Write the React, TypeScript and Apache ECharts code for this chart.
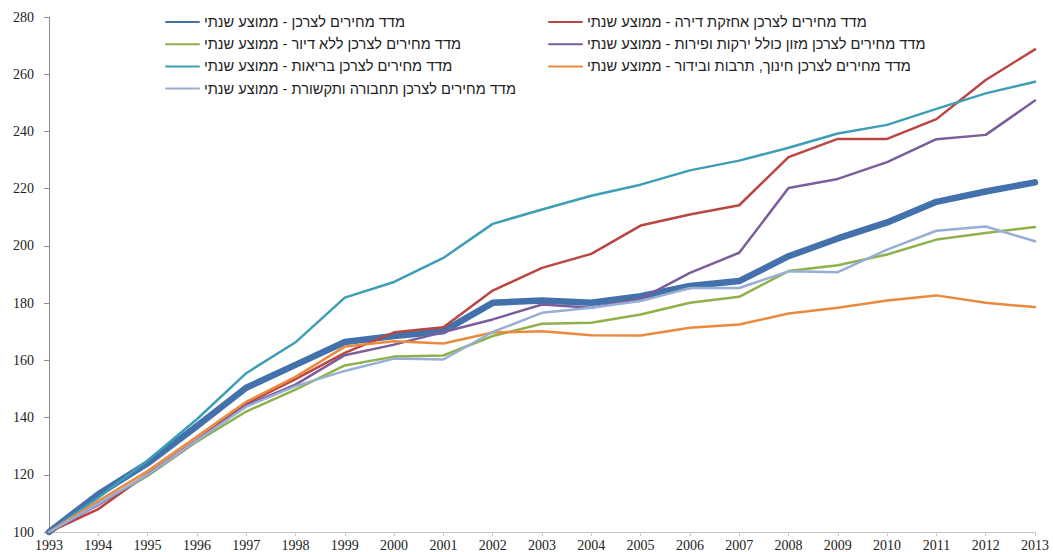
import React, { useEffect, useRef } from "react";
import * as echarts from "echarts";

const years = ["1993","1994","1995","1996","1997","1998","1999","2000","2001","2002","2003","2004","2005","2006","2007","2008","2009","2010","2011","2012","2013"];

const cpi = [100, 113.2, 124, 137, 150.4, 158.4, 166.4, 168.5, 170.2, 180.1, 180.9, 180.1, 182.4, 186, 187.7, 196.4, 202.6, 208.2, 215.4, 219, 222.2];
const housing = [100, 108, 120.3, 132.2, 144.8, 153.4, 162.6, 169.8, 171.6, 184.4, 192.3, 197.2, 207.1, 211, 214.2, 231, 237.4, 237.4, 244.3, 258, 268.7];
const exclHousing = [100, 109.8, 119.6, 131.6, 142.1, 149.8, 158.2, 161.3, 161.7, 168.5, 172.8, 173.1, 176, 180.1, 182.2, 191.2, 193.2, 197, 202.2, 204.5, 206.6];
const food = [100, 109.5, 120, 132, 144.3, 151.5, 161.8, 165.5, 169.9, 174.3, 179.5, 178.4, 181.5, 190.6, 197.6, 220.2, 223.4, 229.3, 237.3, 238.8, 250.8];
const health = [100, 112, 125, 139.4, 155.5, 166.3, 181.9, 187.4, 195.8, 207.7, 212.7, 217.5, 221.4, 226.4, 229.8, 234.3, 239.3, 242.3, 247.9, 253.3, 257.4];
const education = [100, 110.8, 121.3, 133.4, 145.5, 154.2, 164.8, 166.7, 165.9, 169.7, 170.2, 168.8, 168.7, 171.4, 172.5, 176.4, 178.4, 180.9, 182.7, 180.1, 178.6];
const communication = [100, 109.8, 120, 132, 143.8, 151, 156.3, 160.6, 160.3, 169.9, 176.6, 178.4, 180.7, 185.3, 185.3, 191.1, 190.8, 198.7, 205.3, 206.8, 201.6];

const names = [
  "מדד מחירים לצרכן - ממוצע שנתי",
  "מדד מחירים לצרכן אחזקת דירה - ממוצע שנתי",
  "מדד מחירים לצרכן ללא דיור - ממוצע שנתי",
  "מדד מחירים לצרכן מזון כולל ירקות ופירות - ממוצע שנתי",
  "מדד מחירים לצרכן בריאות - ממוצע שנתי",
  "מדד מחירים לצרכן חינוך, תרבות ובידור - ממוצע שנתי",
  "מדד מחירים לצרכן תחבורה ותקשורת - ממוצע שנתי",
];
const values = [cpi, housing, exclHousing, food, health, education, communication];
const colors = ["#4271AB", "#BB4541", "#8DB14B", "#7B5D9C", "#3E9EB5", "#EA8A3F", "#98AED6"];
const widths = [6.5, 2.5, 2.5, 2.5, 2.5, 2.5, 2.5];

export default function App() {
  const ref = useRef<HTMLDivElement>(null);
  useEffect(() => {
    if (!ref.current) return;
    const chart = echarts.init(ref.current, undefined, { renderer: "svg" });
    const legendText = { fontFamily: "Liberation Sans, DejaVu Sans, Arial, sans-serif", fontSize: 14.6, lineHeight: 16, color: "#222" };
    const legendBase = {
      top: 14, orient: "vertical", itemWidth: 33, itemHeight: 14, itemGap: 6.2,
      padding: 0,
      itemStyle: { opacity: 0 },
      textStyle: legendText,
    };
    chart.setOption({
      animation: false,
      backgroundColor: "#fff",
      legend: [
        { ...legendBase, left: 165, data: [names[0], names[2], names[4], names[6]] },
        { ...legendBase, left: 548, data: [names[1], names[3], names[5]] },
      ],
      grid: { left: 49, right: 18, top: 17, bottom: 19 },
      xAxis: {
        type: "category",
        data: years,
        boundaryGap: false,
        axisLine: { lineStyle: { color: "#C8C8C8", width: 1 } },
        axisTick: { show: true, length: 4, lineStyle: { color: "#C8C8C8" } },
        axisLabel: { margin: 6, fontFamily: "Liberation Serif, DejaVu Serif, serif", fontSize: 14, color: "#222" },
      },
      yAxis: {
        type: "value",
        min: 100, max: 280, interval: 20,
        splitLine: { show: false },
        axisLine: { show: true, lineStyle: { color: "#8A8A8A", width: 1 } },
        axisTick: { show: true, length: 5, lineStyle: { color: "#8A8A8A" } },
        axisLabel: { margin: 15, fontFamily: "Liberation Serif, DejaVu Serif, serif", fontSize: 14, color: "#222" },
      },
      series: names.map((n, i) => ({
        name: n,
        type: "line",
        data: values[i],
        symbol: "none",
        showSymbol: false,
        color: colors[i],
        lineStyle: { color: colors[i], width: widths[i], cap: "round", join: "round" },
        emphasis: { disabled: true },
        z: 2,
      })),
    });
    return () => chart.dispose();
  }, []);
  return <div ref={ref} style={{ position: "fixed", left: 0, top: 0, width: 1053, height: 552 }} />;
}
